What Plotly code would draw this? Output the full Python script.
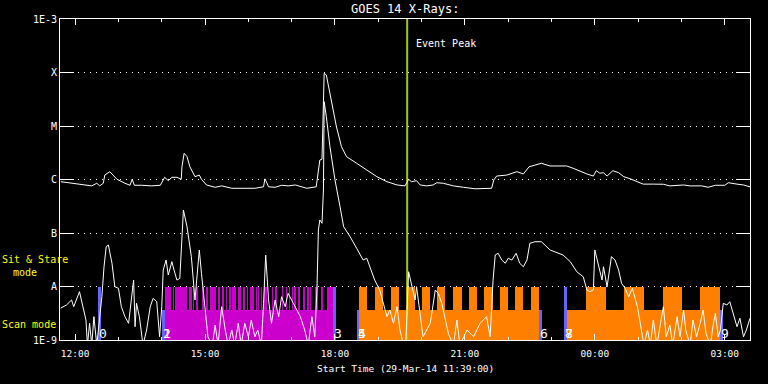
import plotly.graph_objects as go
import pandas as pd

START = pd.Timestamp("2014-03-29 11:39:00")
END_MIN = 956
EVENT_PEAK_MIN = 481

# GOES long channel (1-8 A): minutes after start, flux (W/m^2)
LONG_T = [1, 16, 30, 44, 51, 55, 60, 62, 69, 79,
          90, 97, 100, 103, 113, 127, 139, 145, 150, 155,
          162, 168, 169, 172, 176, 180, 187, 193, 196, 203,
          215, 224, 238, 270, 282, 284, 289, 298, 307, 316,
          326, 342, 355, 358, 360, 363, 365, 366, 369, 372,
          376, 383, 390, 397, 411, 425, 439, 453, 467, 478,
          483, 487, 494, 499, 508, 517, 522, 531, 545, 559,
          575, 598, 601, 605, 619, 633, 642, 650, 661, 667,
          679, 702, 711, 721, 730, 739, 743, 748, 753, 758,
          766, 774, 781, 790, 799, 808, 822, 836, 845, 864,
          873, 889, 898, 908, 921, 926, 938, 947, 956]
LONG_F = [9.1e-7, 8.5e-7, 7.9e-7, 7.6e-7, 8.5e-7, 7.6e-7, 8.5e-7, 1.21e-6, 1.40e-6, 1.01e-6,
          8.5e-7, 7.8e-7, 1.01e-6, 7.8e-7, 7.8e-7, 7.6e-7, 7.8e-7, 1.10e-6, 9.5e-7, 1.10e-6,
          1.10e-6, 1.01e-6, 1.73e-6, 3.09e-6, 2.67e-6, 1.73e-6, 1.13e-6, 1.21e-6, 1.01e-6, 7.9e-7,
          7.15e-7, 7.6e-7, 6.85e-7, 6.85e-7, 7.3e-7, 1.03e-6, 7.3e-7, 7.15e-7, 7.8e-7, 7.6e-7,
          7.9e-7, 6.85e-7, 7.3e-7, 1.31e-6, 2.31e-6, 2.4e-6, 2.66e-5, 9.66e-5, 8.98e-5, 5.43e-5,
          2.66e-5, 9.7e-6, 4.10e-6, 2.67e-6, 2.01e-6, 1.51e-6, 1.13e-6, 9.1e-7, 7.9e-7, 7.6e-7,
          1.01e-6, 9.1e-7, 9.5e-7, 7.9e-7, 7.6e-7, 7.9e-7, 8.7e-7, 8.5e-7, 7.6e-7, 7.15e-7,
          6.7e-7, 6.85e-7, 9.8e-7, 1.16e-6, 1.21e-6, 1.40e-6, 1.27e-6, 1.73e-6, 1.92e-6, 2.01e-6,
          1.79e-6, 1.79e-6, 1.62e-6, 1.40e-6, 1.27e-6, 1.16e-6, 1.46e-6, 1.31e-6, 1.34e-6, 1.16e-6,
          1.46e-6, 1.34e-6, 1.13e-6, 1.03e-6, 9.1e-7, 8.2e-7, 8.2e-7, 8.15e-7, 7.6e-7, 7.9e-7,
          7.6e-7, 7.6e-7, 7.15e-7, 7.8e-7, 7.8e-7, 8.7e-7, 8.2e-7, 7.9e-7, 7.3e-7]

# GOES short channel (0.5-4 A)
SHORT_T = [1, 9, 16, 19, 27, 32, 36, 38, 41, 44,
           47, 51, 54, 58, 61, 64, 67, 72, 76, 81,
           85, 90, 95, 99, 102, 104, 106, 110, 113, 115,
           120, 125, 129, 134, 138, 141, 143, 147, 150, 155,
           158, 162, 166, 169, 171, 176, 182, 187, 193, 196,
           201, 205, 211, 215, 219, 224, 229, 233, 238, 242,
           247, 251, 256, 261, 265, 270, 274, 279, 282, 285,
           289, 293, 298, 303, 307, 312, 316, 321, 326, 333,
           339, 344, 349, 353, 356, 358, 360, 363, 365, 366,
           369, 374, 381, 386, 388, 393, 402, 411, 420, 425,
           430, 436, 443, 448, 453, 457, 462, 467, 471, 476,
           479, 483, 487, 492, 494, 499, 503, 513, 520, 524,
           529, 533, 538, 545, 550, 554, 564, 573, 582, 591,
           596, 600, 603, 607, 612, 617, 621, 626, 632, 637,
           642, 647, 651, 658, 667, 679, 697, 707, 716, 725,
           730, 734, 739, 741, 746, 751, 753, 758, 764, 769,
           774, 778, 783, 788, 793, 797, 800, 804, 809, 814,
           818, 822, 827, 832, 836, 840, 845, 849, 855, 859,
           864, 867, 873, 877, 882, 887, 891, 895, 901, 905,
           908, 912, 915, 919, 924, 928, 933, 938, 942, 947,
           951, 956]
SHORT_F = [3.96e-9, 4.51e-9, 5.6e-9, 4.19e-9, 8.0e-9, 4.19e-9, 2.36e-9, 8e-10, 2.05e-9, 8e-10,
           2.73e-9, 8e-10, 1.77e-9, 6.45e-9, 2.34e-8, 5.55e-8, 5.97e-8, 2.72e-8, 9.9e-9, 9.25e-9,
           4.19e-9, 2.73e-9, 2.05e-9, 5.2e-9, 1.32e-8, 1.77e-9, 4.85e-9, 2.73e-9, 1.33e-9, 8e-10,
           1.54e-9, 4.19e-9, 6.0e-9, 5.2e-9, 1.15e-9, 4.19e-9, 2.03e-8, 3.13e-8, 1.64e-8, 2.91e-8,
           2.03e-8, 1.32e-8, 1.42e-8, 1.14e-7, 2.69e-7, 1.31e-7, 3.61e-8, 5.6e-9, 4.81e-8, 1.77e-8,
           4.19e-9, 1.15e-9, 8e-10, 1.9e-9, 8e-10, 4.19e-9, 1.54e-9, 8e-10, 1.54e-9, 8e-10,
           2.05e-9, 8e-10, 2.05e-9, 1.15e-9, 2.36e-9, 1.15e-9, 1.54e-9, 8e-10, 4.85e-9, 3.88e-8,
           5.6e-9, 2.05e-9, 5.6e-9, 2.73e-9, 6.45e-9, 4.19e-9, 7.46e-9, 5.6e-9, 4.19e-9, 2.73e-9,
           1.54e-9, 8e-10, 2.73e-9, 1.15e-9, 8.6e-9, 1.14e-7, 1.75e-7, 1.52e-7, 6.37e-7, 2.85e-5,
           1.49e-5, 4.10e-6, 9.8e-7, 4.77e-7, 3.10e-7, 1.31e-7, 8.5e-8, 5.18e-8, 3.13e-8, 3.37e-8,
           2.19e-8, 1.32e-8, 8.6e-9, 4.85e-9, 2.73e-9, 3.64e-9, 2.05e-9, 4.19e-9, 1.54e-9, 8e-10,
           8e-10, 1.89e-8, 1.15e-8, 5.6e-9, 9.9e-9, 2.73e-9, 1.15e-9, 2.05e-9, 8.6e-9, 7.46e-9,
           4.85e-9, 2.73e-9, 1.33e-9, 8e-10, 2.36e-9, 8e-10, 1.54e-9, 1.15e-9, 2.05e-9, 2.73e-9,
           1.15e-9, 1.32e-8, 3.88e-8, 4.18e-8, 3.13e-8, 2.72e-8, 3.37e-8, 3.13e-8, 4.18e-8, 2.72e-8,
           2.34e-8, 3.13e-8, 6.41e-8, 6.87e-8, 6.87e-8, 4.81e-8, 3.88e-8, 2.91e-8, 1.89e-8, 1.52e-8,
           8.6e-9, 8.0e-9, 8.6e-9, 4.81e-8, 2.52e-8, 1.32e-8, 2.34e-8, 9.9e-9, 3.61e-8, 3.13e-8,
           2.03e-8, 1.15e-8, 9.25e-9, 6.45e-9, 9.25e-9, 5.6e-9, 4.19e-9, 2.05e-9, 8e-10, 1.54e-9,
           8e-10, 2.36e-9, 8e-10, 2.05e-9, 4.19e-9, 1.15e-9, 1.9e-9, 8e-10, 2.73e-9, 1.15e-9,
           3.64e-9, 1.54e-9, 8e-10, 2.36e-9, 1.15e-9, 2.05e-9, 3.64e-9, 1.33e-9, 8e-10, 1.9e-9,
           3.15e-9, 1.15e-9, 1.54e-9, 4.85e-9, 4.51e-9, 5.2e-9, 3.15e-9, 1.77e-9, 2.55e-9, 1.15e-9,
           1.54e-9, 2.55e-9]

# Observation timeline (minutes after start)
MAG_START = [145]
MAG_END = [378]
MAG_NOTCHES = [154, 158, 177, 183, 187, 192, 195, 200, 206, 217, 222, 228, 232, 237,
               245, 252, 257, 261, 270, 273, 277, 281, 287, 289, 292, 296, 301, 303,
               306, 309, 311, 315, 316, 320, 323, 328, 333, 335, 340, 341, 345, 349,
               351, 358, 360, 365, 368]
ORANGE_LOW_START = [414, 702]
ORANGE_LOW_END = [664, 914]
ORANGE_FULL_START = [414, 436, 459, 480, 502, 523, 545, 567, 588, 610, 631, 653, 729, 782, 835, 887]
ORANGE_FULL_END = [426, 448, 470, 492, 513, 534, 557, 578, 600, 621, 642, 664, 757, 809, 862, 914]
BLUE_START = [53, 141, 378, 411, 664, 698, 914]
BLUE_END = [57, 145, 383, 414, 668, 702, 918]
BLUE_FULL = [True, False, True, False, False, True, False]
OBS_LABELS = ["0", "1", "2", "3", "4", "5", "6", "7", "8", "9"]
OBS_LABEL_T = [53, 141, 141, 378, 411, 411, 664, 698, 698, 914]

Y_TICKS = [1e-3, 1e-4, 1e-5, 1e-6, 1e-7, 1e-8, 1e-9]
Y_TICKTEXT = ["1E-3", "X", "M", "C", "B", "A", "1E-9"]

BASE = 1e-9
FULL_TOP = 1e-8
LOW_TOP = 3.6e-9

MONO = "DejaVu Sans Mono"


def tm(m):
    return START + pd.Timedelta(minutes=m)


def bar_trace(starts, ends, bottom, top, color):
    return go.Bar(
        x=[tm((s + e) / 2) for s, e in zip(starts, ends)],
        width=[(e - s) * 60000 for s, e in zip(starts, ends)],
        y=[top - bottom] * len(starts),
        base=[bottom] * len(starts),
        marker=dict(color=color, line=dict(width=0)),
        showlegend=False, hoverinfo="skip",
    )


fig = go.Figure()
fig.add_trace(bar_trace(MAG_START, MAG_END, BASE, FULL_TOP, "#cc00cc"))
fig.add_trace(bar_trace(MAG_NOTCHES, [n + 1.2 for n in MAG_NOTCHES],
                        LOW_TOP, FULL_TOP, "#000000"))
fig.add_trace(bar_trace(ORANGE_LOW_START, ORANGE_LOW_END, BASE, LOW_TOP, "#ff8000"))
fig.add_trace(bar_trace(ORANGE_FULL_START, ORANGE_FULL_END, BASE, FULL_TOP, "#ff8000"))
bs_full = [s for s, f in zip(BLUE_START, BLUE_FULL) if f]
be_full = [e for e, f in zip(BLUE_END, BLUE_FULL) if f]
bs_low = [s for s, f in zip(BLUE_START, BLUE_FULL) if not f]
be_low = [e for e, f in zip(BLUE_END, BLUE_FULL) if not f]
fig.add_trace(bar_trace(bs_full, be_full, BASE, FULL_TOP, "#6464ff"))
fig.add_trace(bar_trace(bs_low, be_low, BASE, LOW_TOP, "#6464ff"))

# event peak line
fig.add_trace(go.Scatter(x=[tm(EVENT_PEAK_MIN), tm(EVENT_PEAK_MIN)], y=[1e-9, 1e-3],
                         mode="lines", line=dict(color="#a0c800", width=2),
                         showlegend=False, hoverinfo="skip"))

fig.add_trace(go.Scatter(x=[tm(m) for m in SHORT_T], y=SHORT_F, mode="lines",
                         line=dict(color="white", width=1), showlegend=False,
                         hoverinfo="skip"))
fig.add_trace(go.Scatter(x=[tm(m) for m in LONG_T], y=LONG_F, mode="lines",
                         line=dict(color="white", width=1), showlegend=False,
                         hoverinfo="skip"))

PW = 690.0  # plot width in px, for paper-relative offsets
PH = 321.0

annotations = []
for lab, t in zip(OBS_LABELS, OBS_LABEL_T):
    annotations.append(dict(x=tm(t), xref="x", y=0.0, yref="paper", text=lab,
                            showarrow=False, xanchor="left", yanchor="bottom",
                            xshift=-1, yshift=-3,
                            font=dict(family=MONO, size=13, color="white")))
annotations.append(dict(x=tm(EVENT_PEAK_MIN), xref="x", y=1 - 24 / PH, yref="paper",
                        text="Event Peak", showarrow=False, xanchor="left",
                        yanchor="middle", xshift=7,
                        font=dict(family=MONO, size=10, color="white")))
annotations.append(dict(x=-60 / PW, xref="paper", y=(340 - 259) / PH, yref="paper",
                        text="Sit & Stare", showarrow=False, xanchor="left",
                        yanchor="middle",
                        font=dict(family=MONO, size=10, color="#ffff00")))
annotations.append(dict(x=-49 / PW, xref="paper", y=(340 - 272) / PH, yref="paper",
                        text="mode", showarrow=False, xanchor="left",
                        yanchor="middle",
                        font=dict(family=MONO, size=10, color="#ffff00")))
annotations.append(dict(x=-60 / PW, xref="paper", y=(340 - 324) / PH, yref="paper",
                        text="Scan mode", showarrow=False, xanchor="left",
                        yanchor="middle",
                        font=dict(family=MONO, size=10, color="#ffff00")))
annotations.append(dict(x=0.5, xref="paper", y=-(368 - 340) / PH, yref="paper",
                        text="Start Time (29-Mar-14 11:39:00)", showarrow=False,
                        xanchor="center", yanchor="middle",
                        font=dict(family=MONO, size=9.5, color="white")))
annotations.append(dict(x=0.5, xref="paper", y=1.0, yref="paper", yshift=10,
                        text="GOES 14 X-Rays:", showarrow=False,
                        xanchor="center", yanchor="middle",
                        font=dict(family=MONO, size=12, color="white")))

fig.update_layout(
    width=768, height=384,
    margin=dict(l=60, r=18, t=19, b=44),
    paper_bgcolor="black", plot_bgcolor="black",
    barmode="overlay", bargap=0,
    showlegend=False, hovermode=False,
    annotations=annotations,
    font=dict(family=MONO, size=10, color="white"),
)
fig.update_xaxes(
    type="date", range=[tm(0), tm(END_MIN)],
    tickformat="%H:%M", dtick=3 * 3600000, tick0="2014-03-29 12:00:00",
    ticks="inside", ticklen=6, tickcolor="white", showgrid=False,
    minor=dict(dtick=3600000, ticks="inside", ticklen=3, tickcolor="white", showgrid=False),
    showline=True, linecolor="white", linewidth=1, mirror="ticks",
    tickfont=dict(family=MONO, size=9.5, color="white"), zeroline=False,
    ticklabelstandoff=5,
)
fig.update_yaxes(
    type="log", range=[-9, -3],
    tickvals=Y_TICKS, ticktext=Y_TICKTEXT,
    ticks="inside", ticklen=14, tickcolor="white",
    showgrid=True, gridcolor="white", griddash="1px,5px", gridwidth=1,
    showline=True, linecolor="white", linewidth=1, mirror="ticks",
    tickfont=dict(family=MONO, size=10, color="white"), zeroline=False,
)

fig.write_html("out.html", config={"displayModeBar": False},
               post_script="document.body.style.margin='0px';document.body.style.overflow='hidden';")
